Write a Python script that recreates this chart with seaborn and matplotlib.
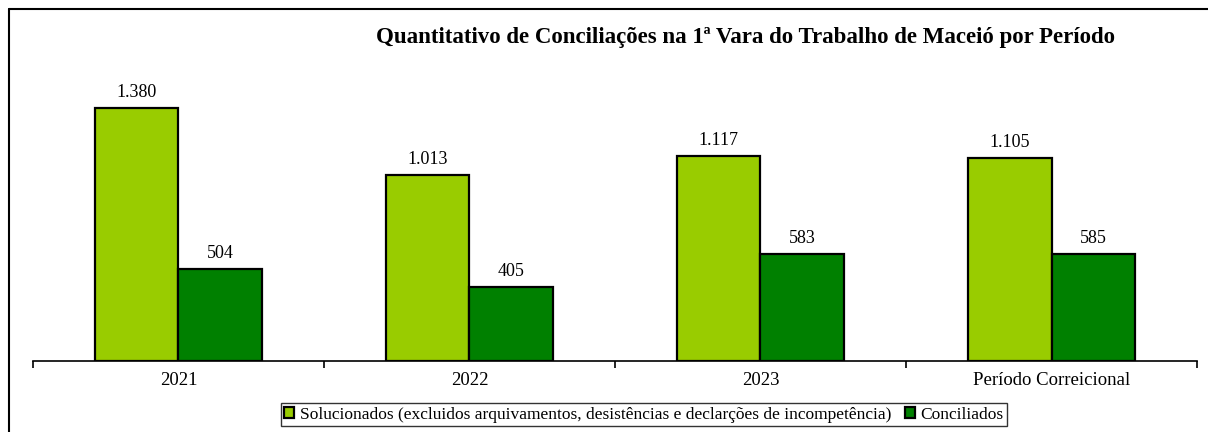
import pandas as pd
import matplotlib.pyplot as plt
import seaborn as sns
from matplotlib.lines import Line2D

periodos = ['2021', '2022', '2023', 'Período Correicional']
solucionados = [1380, 1013, 1117, 1105]
conciliados = [504, 405, 583, 585]
serie_sol = 'Solucionados (excluidos arquivamentos, desistências e declarções de incompetência)'
serie_con = 'Conciliados'

df = pd.DataFrame({
    'periodo': periodos * 2,
    'valor': solucionados + conciliados,
    'serie': [serie_sol] * 4 + [serie_con] * 4,
})

sns.set_style('white')
plt.rcParams['font.family'] = ['Liberation Serif', 'DejaVu Serif']
plt.rcParams['text.color'] = 'black'
plt.rcParams['xtick.color'] = 'black'
plt.rcParams['xtick.labelcolor'] = 'black'

fig = plt.figure(figsize=(12.08, 4.32), dpi=100)
ax = fig.add_axes([0.0273, 0.1644, 0.9636, 0.679])

sns.barplot(data=df, x='periodo', y='valor', hue='serie', ax=ax,
            palette=['#99CC00', '#008000'], width=0.574, gap=0,
            edgecolor='black', linewidth=1.6, saturation=1)

for cont in ax.containers:
    ax.bar_label(cont, labels=[f'{v:,.0f}'.replace(',', '.') for v in cont.datavalues],
                 padding=5, fontsize=13, color='black')

ax.set_xlim(-0.5, 3.5)
ax.set_ylim(0, 1600)
ax.set_xlabel('')
ax.set_ylabel('')
ax.set_yticks([])
for s in ['top', 'right', 'left']:
    ax.spines[s].set_visible(False)
ax.spines['bottom'].set_linewidth(1.2)
ax.spines['bottom'].set_color('black')
ax.tick_params(axis='x', which='major', length=0, labelsize=13.5, pad=8, labelcolor='black')
ax.set_xticks([-0.5, 0.5, 1.5, 2.5, 3.5], minor=True)
ax.tick_params(axis='x', which='minor', bottom=True, length=5, width=1.2,
               color='black', direction='out')

fig.text(0.617, 0.914, 'Quantitativo de Conciliações na 1ª Vara do Trabalho de Maceió por Período',
         ha='center', va='center', fontsize=16.5, fontweight='bold', color='black')

leg = ax.legend(loc='center', bbox_to_anchor=(0.533, 0.04), bbox_transform=fig.transFigure,
                ncol=2, frameon=True, fancybox=False, fontsize=12.5,
                handlelength=0.6, handleheight=0.6, handletextpad=0.3, columnspacing=0.8,
                borderpad=0.2, labelcolor='black')
leg.get_frame().set_edgecolor('black')
leg.get_frame().set_linewidth(1.0)

# moldura parcial (esquerda e topo)
fig.add_artist(Line2D([9 / 1208, 9 / 1208], [0, 1 - 9 / 432], transform=fig.transFigure, color='black', lw=1.5))
fig.add_artist(Line2D([9 / 1208, 1], [1 - 9 / 432, 1 - 9 / 432], transform=fig.transFigure, color='black', lw=1.5))

fig.savefig('out.png', dpi=100)
